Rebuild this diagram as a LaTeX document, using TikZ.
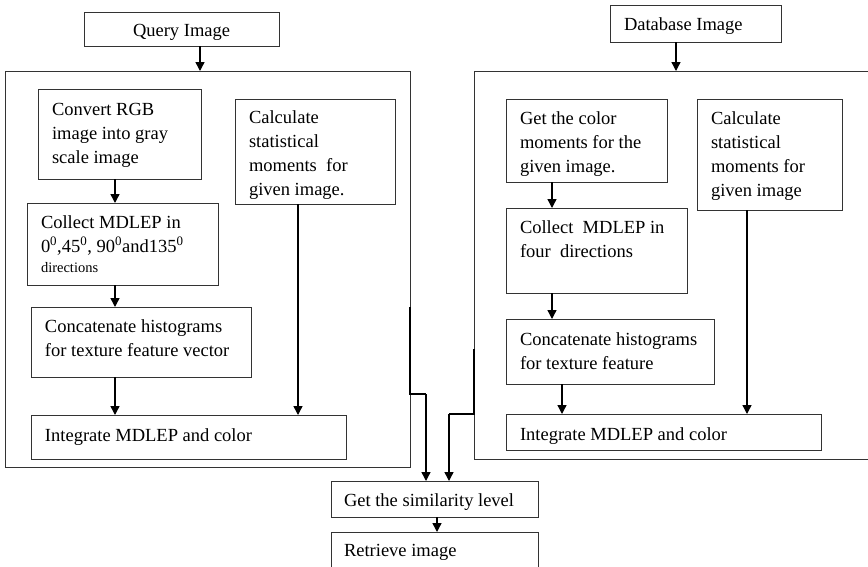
\documentclass[tikz,border=0pt]{standalone}
\usepackage{fontspec}
\setmainfont{Liberation Serif}
\usetikzlibrary{arrows.meta}
\newcommand{\ml}[1]{\begin{tabular}[t]{@{}l@{}}#1\end{tabular}}
\newcommand{\degs}[1]{#1\textsuperscript{0}}
\begin{document}
\begin{tikzpicture}[x=1pt,y=-1pt,
  frame/.style={draw=black!80,line width=1pt,inner sep=0pt,outer sep=0pt,anchor=north west},
  txt/.style={inner sep=0pt,outer sep=0pt,anchor=base west,
    font=\fontsize{18.5}{24}\selectfont},
  arr/.style={draw=black,line width=1.4pt,-{Triangle[width=9pt,length=9pt]}},
  link/.style={draw=black,line width=1.4pt}]
\clip (0,0) rectangle (868,566);
\fill[white] (0,0) rectangle (868,566);

% query side
\node[frame,minimum width=195,minimum height=34] (q) at (84,12) {};
\node[txt] (qt) at (133,36) {Query Image};
\node[frame,minimum width=405,minimum height=396] (lb) at (5,71) {};
\node[frame,minimum width=163,minimum height=90] (cvt) at (38,89) {};
\node[txt] (cvtt) at (52,115) {\ml{Convert RGB\\image into gray\\scale image}};
\node[frame,minimum width=160,minimum height=105] (csl) at (235,99) {};
\node[txt] (cslt) at (249,123) {\ml{Calculate\\statistical\\moments\ \ for\\given image.}};
\node[frame,minimum width=191,minimum height=82] (coll) at (27,203) {};
\node[txt] (collt) at (41,228) {\ml{Collect MDLEP in\\\degs{0},\degs{45}, \degs{90}and\degs{135}}};
\node[inner sep=0pt,outer sep=0pt,anchor=base west,font=\fontsize{14.5}{17}\selectfont] (dirt) at (41,272) {directions};
\node[frame,minimum width=220,minimum height=70] (catl) at (31,307) {};
\node[txt] (catlt) at (45,332) {\ml{Concatenate histograms\\for texture feature vector}};
\node[frame,minimum width=315,minimum height=44] (intl) at (31,415) {};
\node[txt] (intlt) at (45,441) {Integrate MDLEP and color};

% database side
\node[frame,minimum width=171,minimum height=37] (d) at (610,5) {};
\node[txt] (dt) at (624,30) {Database Image};
\node[frame,minimum width=420,minimum height=388] (rb) at (474,71) {};
\node[frame,minimum width=161,minimum height=83] (cm) at (506,99) {};
\node[txt] (cmt) at (520,124) {\ml{Get the color\\moments for the\\given image.}};
\node[frame,minimum width=145,minimum height=111] (csr) at (697,99) {};
\node[txt] (csrt) at (711,124) {\ml{Calculate\\statistical\\moments for\\given image}};
\node[frame,minimum width=181,minimum height=85] (colr) at (506,208) {};
\node[txt] (colrt) at (520,233) {\ml{Collect\ \ MDLEP in\\four\ \ directions}};
\node[frame,minimum width=208,minimum height=65] (catr) at (506,319) {};
\node[txt] (catrt) at (520,345) {\ml{Concatenate histograms\\for texture feature}};
\node[frame,minimum width=315,minimum height=36] (intr) at (506,414) {};
\node[txt] (intrt) at (520,440) {Integrate MDLEP and color};

% result
\node[frame,minimum width=207,minimum height=36] (sim) at (331,481) {};
\node[txt] (simt) at (344,506) {Get the similarity level};
\node[frame,minimum width=207,minimum height=50] (ret) at (331,532) {};
\node[txt] (rett) at (344,556) {Retrieve image};

% arrow columns
\coordinate (xq) at (200,0);
\coordinate (xl) at (115,0);
\coordinate (xs) at (298,0);
\coordinate (xd) at (676,0);
\coordinate (xr) at (552,0);
\coordinate (xr2) at (562,0);
\coordinate (xs2) at (747,0);
\coordinate (xo) at (437,0);

\draw[arr] (q.south -| xq) -- (lb.north -| xq);
\draw[arr] (cvt.south -| xl) -- (coll.north -| xl);
\draw[arr] (coll.south -| xl) -- (catl.north -| xl);
\draw[arr] (catl.south -| xl) -- (intl.north -| xl);
\draw[arr] (csl.south -| xs) -- (intl.north -| xs);

\draw[arr] (d.south -| xd) -- (rb.north -| xd);
\draw[arr] (cm.south -| xr) -- (colr.north -| xr);
\draw[arr] (colr.south -| xr) -- (catr.north -| xr);
\draw[arr] (catr.south -| xr2) -- (intr.north -| xr2);
\draw[arr] (csr.south -| xs2) -- (intr.north -| xs2);

% feeds into the similarity step
\coordinate (la) at (410,307);
\coordinate (lc) at (426,394);
\coordinate (ra) at (474,349);
\coordinate (rc) at (449,414);
\draw[link] (la) |- (lc);
\draw[arr] (lc) -- (sim.north -| lc);
\draw[link] (ra) |- (rc);
\draw[arr] (rc) -- (sim.north -| rc);
\draw[arr] (sim.south -| xo) -- (ret.north -| xo);
\end{tikzpicture}
\end{document}
